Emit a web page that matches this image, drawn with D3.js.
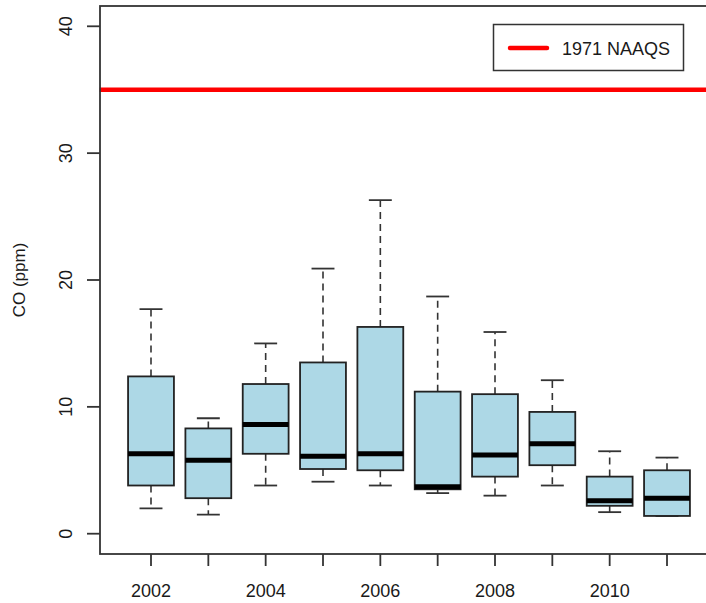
<!DOCTYPE html>
<html>
<head>
<meta charset="utf-8">
<script src="https://cdn.jsdelivr.net/npm/d3@7"></script>
<style>
  html, body { margin: 0; padding: 0; background: #fff; }
  svg { display: block; }
  text { font-family: "Liberation Sans", Arial, sans-serif; fill: #1a1a1a; }
</style>
</head>
<body>
<svg id="chart" width="706" height="603"></svg>
<script>
// ---- data ----
const years = [2002, 2003, 2004, 2005, 2006, 2007, 2008, 2009, 2010, 2011];
const whiskerLow  = [2.0, 1.5, 3.8, 4.1, 3.8, 3.2, 3.0, 3.8, 1.7, 1.4];
const q1          = [3.8, 2.8, 6.3, 5.1, 5.0, 3.5, 4.5, 5.4, 2.2, 1.4];
const medians     = [6.3, 5.8, 8.6, 6.1, 6.3, 3.7, 6.2, 7.1, 2.6, 2.8];
const q3          = [12.4, 8.3, 11.8, 13.5, 16.3, 11.2, 11.0, 9.6, 4.5, 5.0];
const whiskerHigh = [17.7, 9.1, 15.0, 20.9, 26.3, 18.7, 15.9, 12.1, 6.5, 6.0];
const yTicks = [0, 10, 20, 30, 40];
const xTickLabels = ["2002", "", "2004", "", "2006", "", "2008", "", "2010", ""];
const naaqsValue = 35;
const legendLabel = "1971 NAAQS";
const yLabel = "CO (ppm)";

// ---- layout ----
const svg = d3.select("#chart");
const n = years.length;
const x = d3.scaleLinear().domain([0.5 - 0.04 * n, n + 0.5 + 0.04 * n]).range([99.4, 718.6]);
const y = d3.scaleLinear().domain([-1.6, 41.6]).range([554, 6]);
const unit = x(2) - x(1);
const boxW = 0.8 * unit;
const capW = 0.5 * boxW;
const axisCol = "#333";

svg.append("defs").append("clipPath").attr("id", "clip")
  .append("rect").attr("x", x.range()[0]).attr("y", 6)
  .attr("width", x.range()[1] - x.range()[0]).attr("height", 548);

const plot = svg.append("g").attr("clip-path", "url(#clip)");

const data = years.map((yr, i) => ({
  i: i + 1, lo: whiskerLow[i], q1: q1[i], med: medians[i], q3: q3[i], hi: whiskerHigh[i]
}));

const g = plot.selectAll("g.box").data(data).enter().append("g").attr("class", "box");

// whiskers (dashed)
g.append("line")
  .attr("x1", d => x(d.i)).attr("x2", d => x(d.i))
  .attr("y1", d => y(d.q3)).attr("y2", d => y(d.hi))
  .attr("stroke", axisCol).attr("stroke-width", 1.6).attr("stroke-dasharray", "7,5");
g.append("line")
  .attr("x1", d => x(d.i)).attr("x2", d => x(d.i))
  .attr("y1", d => y(d.q1)).attr("y2", d => y(d.lo))
  .attr("stroke", axisCol).attr("stroke-width", 1.6).attr("stroke-dasharray", "7,5");
// caps
g.append("line")
  .attr("x1", d => x(d.i) - capW / 2).attr("x2", d => x(d.i) + capW / 2)
  .attr("y1", d => y(d.hi)).attr("y2", d => y(d.hi))
  .attr("stroke", axisCol).attr("stroke-width", 1.8);
g.append("line")
  .attr("x1", d => x(d.i) - capW / 2).attr("x2", d => x(d.i) + capW / 2)
  .attr("y1", d => y(d.lo)).attr("y2", d => y(d.lo))
  .attr("stroke", axisCol).attr("stroke-width", 1.8);
// boxes
g.append("rect")
  .attr("x", d => x(d.i) - boxW / 2).attr("width", boxW)
  .attr("y", d => y(d.q3)).attr("height", d => y(d.q1) - y(d.q3))
  .attr("fill", "#add8e6").attr("stroke", "#222").attr("stroke-width", 1.8);
// medians
g.append("line")
  .attr("x1", d => x(d.i) - boxW / 2).attr("x2", d => x(d.i) + boxW / 2)
  .attr("y1", d => y(d.med)).attr("y2", d => y(d.med))
  .attr("stroke", "#000").attr("stroke-width", 5);

// NAAQS line
plot.append("line")
  .attr("x1", x.range()[0]).attr("x2", x.range()[1])
  .attr("y1", y(naaqsValue)).attr("y2", y(naaqsValue))
  .attr("stroke", "#ff0000").attr("stroke-width", 4.5);

// frame
svg.append("rect")
  .attr("x", 100).attr("y", 6)
  .attr("width", x.range()[1] - 100).attr("height", 548)
  .attr("fill", "none").attr("stroke", axisCol).attr("stroke-width", 1.8);

// y axis
const yAxis = svg.append("g");
yTicks.forEach(t => {
  yAxis.append("line").attr("x1", 87).attr("x2", 100)
    .attr("y1", y(t)).attr("y2", y(t)).attr("stroke", axisCol).attr("stroke-width", 1.8);
  yAxis.append("text")
    .attr("transform", `translate(72,${y(t)}) rotate(-90)`)
    .attr("text-anchor", "middle").attr("font-size", 18).text(t);
});
svg.append("text")
  .attr("transform", `translate(25,280) rotate(-90)`)
  .attr("text-anchor", "middle").attr("font-size", 17).text(yLabel);

// x axis
data.forEach((d, i) => {
  svg.append("line").attr("x1", x(d.i)).attr("x2", x(d.i))
    .attr("y1", 554).attr("y2", 566).attr("stroke", axisCol).attr("stroke-width", 1.8);
  if (xTickLabels[i]) {
    svg.append("text").attr("x", x(d.i)).attr("y", 597)
      .attr("text-anchor", "middle").attr("font-size", 18).text(xTickLabels[i]);
  }
});

// legend
const lg = svg.append("g");
lg.append("rect").attr("x", 493.5).attr("y", 24.5).attr("width", 190).attr("height", 46)
  .attr("fill", "#fff").attr("stroke", axisCol).attr("stroke-width", 1.5);
lg.append("line").attr("x1", 510).attr("x2", 547).attr("y1", 48).attr("y2", 48)
  .attr("stroke", "#ff0000").attr("stroke-width", 4.5).attr("stroke-linecap", "round");
lg.append("text").attr("x", 562).attr("y", 55).attr("font-size", 18).text(legendLabel);
</script>
</body>
</html>
